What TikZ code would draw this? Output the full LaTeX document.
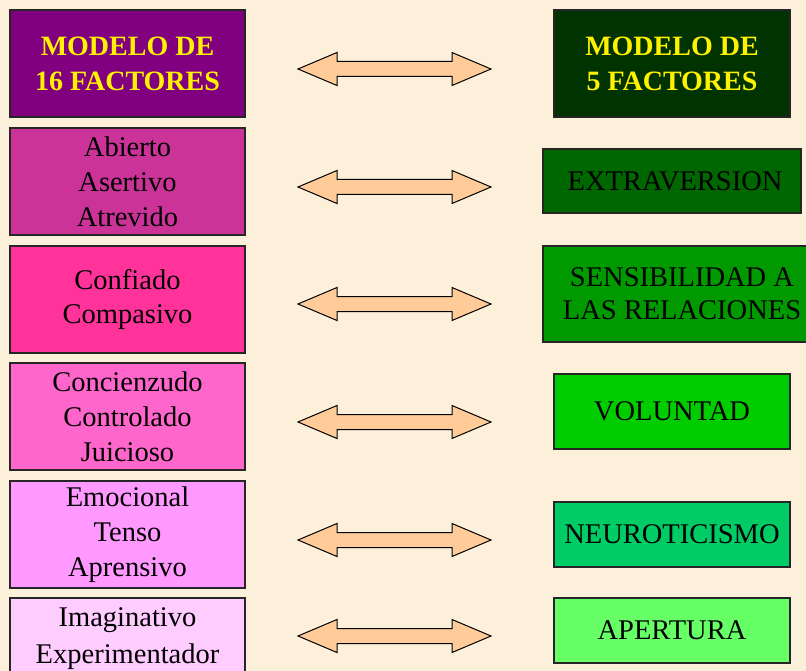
\documentclass[tikz,border=0pt]{standalone}
\usepackage{fontspec}
\setmainfont{Liberation Serif}
\definecolor{bgc}{HTML}{FCF0DA}
\definecolor{arrc}{HTML}{FFCC99}
\definecolor{lA}{HTML}{800080}
\definecolor{lB}{HTML}{CC3399}
\definecolor{lC}{HTML}{FF3399}
\definecolor{lD}{HTML}{FF66CC}
\definecolor{lE}{HTML}{FF99FF}
\definecolor{lF}{HTML}{FFCCFF}
\definecolor{rA}{HTML}{003300}
\definecolor{rB}{HTML}{006600}
\definecolor{rC}{HTML}{009900}
\definecolor{rD}{HTML}{00CC00}
\definecolor{rE}{HTML}{00CC66}
\definecolor{rF}{HTML}{66FF66}
\begin{document}
\begin{tikzpicture}[x=1pt,y=-1pt,
  box/.style={draw=black!85, line width=1.1pt, align=center, inner sep=0pt,
    font=\fontsize{28.5}{35}\selectfont},
  hdr/.style={box, text=yellow, font=\bfseries\fontsize{28}{35}\selectfont},
  lbox/.style={box, minimum width=235pt, minimum height=107pt},
  arrowsty/.style={draw=black, line width=1pt, fill=arrc, line join=miter},
  dbl/.pic={\path[arrowsty] (-96.5,0) -- (-57.5,-16.5) -- (-57.5,-7.5) -- (57.5,-7.5)
      -- (57.5,-16.5) -- (96.5,0) -- (57.5,16.5) -- (57.5,7.5) -- (-57.5,7.5)
      -- (-57.5,16.5) -- cycle;}]
\useasboundingbox (0,0) rectangle (806,671);
\clip (0,0) rectangle (806,671);
\fill[bgc] (0,0) rectangle (806,671);
% left column
\node[lbox, hdr, fill=lA] (l1) at (127.5,63.5) {MODELO DE\\16 FACTORES};
\node[lbox, fill=lB] (l2) at (127.5,181.5) {Abierto\\Asertivo\\Atrevido};
\node[lbox, fill=lC] (l3) at (127.5,299.5) {Confiado\\Compasivo};
\node[lbox, fill=lD] (l4) at (127.5,416.5) {Concienzudo\\Controlado\\Juicioso};
\node[lbox, fill=lE] (l5) at (127.5,534.5) {Emocional\\Tenso\\Aprensivo};
\node[lbox, fill=lF] (l6) at (127.5,651.5) {};
\node[align=center, inner sep=0pt, anchor=north, font=\fontsize{28.5}{37}\selectfont]
  (l6t) at (127.5,607) {Imaginativo\\Experimentador};
% right column
\node[hdr, fill=rA, minimum width=236pt, minimum height=107pt] (r1) at (672,63.5) {MODELO DE\\5 FACTORES};
\node[box, fill=rB, minimum width=258pt, minimum height=64pt] (r2) at (672,181) {\hspace{6pt}EXTRAVERSION};
\node[box, fill=rC, minimum width=278pt, minimum height=96pt, font=\fontsize{28.5}{33}\selectfont] (r3) at (682,294) {SENSIBILIDAD A\\LAS RELACIONES};
\node[box, fill=rD, minimum width=236pt, minimum height=75pt] (r4) at (672,411.5) {VOLUNTAD};
\node[box, fill=rE, minimum width=236pt, minimum height=65pt] (r5) at (672,534.5) {NEUROTICISMO};
\node[box, fill=rF, minimum width=236pt, minimum height=65pt] (r6) at (672,630.5) {APERTURA};
% arrows
\pic (a1) at (394.5,69) {dbl};
\pic (a2) at (394.5,187) {dbl};
\pic (a3) at (394.5,304) {dbl};
\pic (a4) at (394.5,422) {dbl};
\pic (a5) at (394.5,540) {dbl};
\pic (a6) at (394.5,636) {dbl};
\end{tikzpicture}
\end{document}
